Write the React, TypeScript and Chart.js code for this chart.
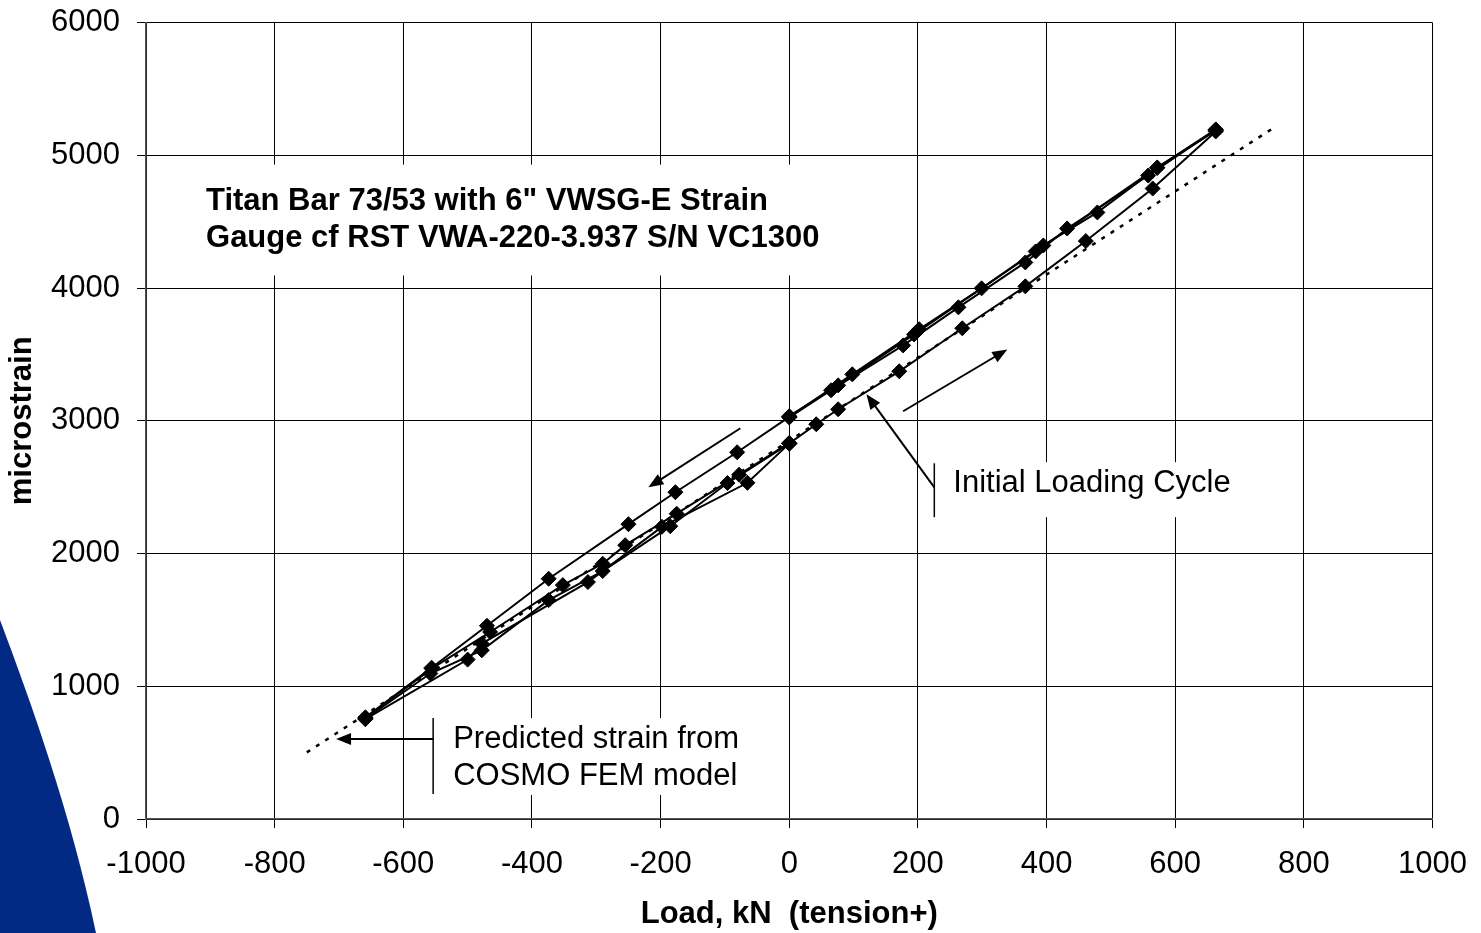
import React, { useEffect, useRef } from "react";
import { Chart, registerables } from "chart.js";

Chart.register(...registerables);

// ---- Data (Load kN, microstrain) ----
const initialLoading: [number, number][] = [
  [0, 2830], [42, 2974], [76, 3087], [171, 3373], [269, 3697], [367, 4013], [461, 4354], [565, 4750], [663, 5180],
];
const unloading1: [number, number][] = [
  [663, 5195], [572, 4905], [479, 4570], [395, 4321], [299, 3998], [202, 3690], [98, 3350], [0, 3030],
];
const compression1: [number, number][] = [
  [0, 3030], [-81, 2763], [-177, 2462], [-250, 2221], [-374, 1810], [-470, 1456], [-556, 1140], [-659, 766],
];
const reload1: [number, number][] = [
  [-659, 760], [-556, 1133], [-465, 1409], [-352, 1762], [-290, 1923], [-255, 2063], [-175, 2300], [-78, 2594], [0, 2833],
];
const tension2: [number, number][] = [
  [0, 3025], [65, 3230], [177, 3568], [263, 3855], [367, 4193], [432, 4449], [558, 4848], [663, 5192],
];
const unloading2: [number, number][] = [
  [663, 5186], [572, 4909], [383, 4276], [194, 3651], [76, 3267], [0, 3035],
];
const compression2: [number, number][] = [
  [0, 2828], [-96, 2531], [-185, 2206], [-290, 1868], [-374, 1649], [-478, 1271], [-558, 1096], [-659, 755],
];
const reload2: [number, number][] = [
  [-659, 752], [-500, 1201], [-478, 1321], [-313, 1785], [-198, 2201], [-65, 2533], [0, 2828],
];
const predictedLoad = [-750, 750];
const predictedStrain = [502, 5198];

const measuredSeries = [initialLoading, unloading1, compression1, reload1, tension2, unloading2, compression2, reload2];

const titleLines = ['Titan Bar 73/53 with 6" VWSG-E Strain', "Gauge cf RST VWA-220-3.937 S/N VC1300"];
const initialLabel = "Initial Loading Cycle";
const predictedLines = ["Predicted strain from", "COSMO FEM model"];
const xAxisTitle = "Load, kN  (tension+)";
const yAxisTitle = "microstrain";

const FONT = "'Liberation Sans', Arial, Helvetica, sans-serif";
const FS = 31;

// annotation geometry in data units
const whiteBoxes = [
  { x1: -922, x2: 64, y1: 4095, y2: 4930 },
  { x1: 228, x2: 701, y1: 2274, y2: 2688 },
  { x1: -550, x2: -68, y1: 181, y2: 760 },
];

function drawArrow(ctx: CanvasRenderingContext2D, x1: number, y1: number, x2: number, y2: number) {
  const ang = Math.atan2(y2 - y1, x2 - x1);
  const len = 15;
  const hw = 6;
  ctx.beginPath();
  ctx.moveTo(x1, y1);
  ctx.lineTo(x2 - Math.cos(ang) * len * 0.8, y2 - Math.sin(ang) * len * 0.8);
  ctx.stroke();
  ctx.beginPath();
  ctx.moveTo(x2, y2);
  ctx.lineTo(x2 - Math.cos(ang) * len - Math.sin(ang) * hw, y2 - Math.sin(ang) * len + Math.cos(ang) * hw);
  ctx.lineTo(x2 - Math.cos(ang) * len + Math.sin(ang) * hw, y2 - Math.sin(ang) * len - Math.cos(ang) * hw);
  ctx.closePath();
  ctx.fill();
}

const annotationPlugin = {
  id: "annotations",
  beforeDatasetsDraw(chart: any) {
    const { ctx, scales } = chart;
    const xs = scales.x;
    const ys = scales.y;
    ctx.save();
    ctx.fillStyle = "#ffffff";
    for (const b of whiteBoxes) {
      const px1 = xs.getPixelForValue(b.x1);
      const px2 = xs.getPixelForValue(b.x2);
      const py1 = ys.getPixelForValue(b.y2);
      const py2 = ys.getPixelForValue(b.y1);
      ctx.fillRect(px1, py1, px2 - px1, py2 - py1);
    }
    ctx.restore();
  },
  afterDatasetsDraw(chart: any) {
    const { ctx, scales } = chart;
    const X = (v: number) => scales.x.getPixelForValue(v);
    const Y = (v: number) => scales.y.getPixelForValue(v);
    ctx.save();
    ctx.strokeStyle = "#000";
    ctx.fillStyle = "#000";
    ctx.lineWidth = 2;
    // direction arrows
    drawArrow(ctx, X(-76), Y(2944), X(-219), Y(2499));
    drawArrow(ctx, X(177), Y(3072), X(339), Y(3538));
    // initial loading callout
    ctx.lineWidth = 1.5;
    ctx.beginPath();
    ctx.moveTo(X(225.5), Y(2680));
    ctx.lineTo(X(225.5), Y(2274));
    ctx.stroke();
    ctx.lineWidth = 2;
    drawArrow(ctx, X(225.5), Y(2499), X(120), Y(3200));
    // predicted callout
    ctx.lineWidth = 1.5;
    ctx.beginPath();
    ctx.moveTo(X(-553.6), Y(760));
    ctx.lineTo(X(-553.6), Y(188));
    ctx.stroke();
    ctx.lineWidth = 2;
    drawArrow(ctx, X(-553.6), Y(602), X(-704.5), Y(602));
    // texts
    ctx.textAlign = "left";
    ctx.textBaseline = "middle";
    ctx.font = `bold ${FS}px ${FONT}`;
    ctx.fillText(titleLines[0], X(-906.7), Y(4652));
    ctx.fillText(titleLines[1], X(-906.7), Y(4374));
    ctx.font = `${FS}px ${FONT}`;
    ctx.fillText(initialLabel, X(255), Y(2530));
    ctx.fillText(predictedLines[0], X(-522.5), Y(602));
    ctx.fillText(predictedLines[1], X(-522.5), Y(324));
    ctx.restore();
  },
};

export default function App() {
  const canvasRef = useRef<HTMLCanvasElement | null>(null);

  useEffect(() => {
    const canvas = canvasRef.current;
    if (!canvas) return;
    const datasets: any[] = measuredSeries.map((s) => ({
      data: s.map(([x, y]) => ({ x, y })),
      showLine: true,
      borderColor: "#000",
      backgroundColor: "#000",
      borderWidth: 2,
      pointStyle: "rectRot",
      pointRadius: 7.5,
      pointBorderWidth: 1,
      pointBackgroundColor: "#000",
      pointBorderColor: "#000",
    }));
    datasets.push({
      data: predictedLoad.map((x, i) => ({ x, y: predictedStrain[i] })),
      showLine: true,
      borderColor: "#000",
      borderWidth: 2.5,
      borderDash: [4, 7],
      pointRadius: 0,
    });

    const chart = new Chart(canvas, {
      type: "scatter",
      data: { datasets },
      options: {
        animation: false,
        responsive: false,
        devicePixelRatio: 1,
        layout: { padding: { top: 9, right: 0, left: 0, bottom: 0 } },
        plugins: { legend: { display: false }, tooltip: { enabled: false } },
        scales: {
          x: {
            type: "linear",
            min: -1000,
            max: 1000,
            ticks: {
              stepSize: 200,
              color: "#000",
              font: { family: FONT, size: FS },
              padding: 18,
              maxRotation: 0,
              callback: (v: any) => String(v),
            },
            grid: { color: "#000", lineWidth: 1, tickLength: 9, drawTicks: true },
            border: { color: "#555", width: 1.5 },
            title: {
              display: true,
              text: xAxisTitle,
              color: "#000",
              font: { family: FONT, size: FS, weight: "bold" },
              padding: { top: 0, bottom: 0 },
            },
            afterFit: (scale: any) => {
              scale.height = 114;
            },
          },
          y: {
            type: "linear",
            min: 0,
            max: 6000,
            ticks: {
              stepSize: 1000,
              color: "#000",
              font: { family: FONT, size: FS },
              padding: 17,
              callback: (v: any) => String(v),
            },
            grid: { color: "#000", lineWidth: 1, tickLength: 9, drawTicks: true },
            border: { color: "#555", width: 1.5 },
            title: {
              display: true,
              text: yAxisTitle,
              color: "#000",
              font: { family: FONT, size: FS, weight: "bold" },
              padding: { top: 4, bottom: 0 },
            },
            afterFit: (scale: any) => {
              scale.width = 146;
            },
          },
        },
      } as any,
      plugins: [annotationPlugin as any],
    });
    return () => chart.destroy();
  }, []);

  return (
    <div style={{ position: "absolute", left: 0, top: 0, width: 1481, height: 933, background: "#fff", overflow: "hidden" }}>
      <svg width={1481} height={933} style={{ position: "absolute", left: 0, top: 0 }}>
        <path d="M0 620 C 30 700, 70 810, 96 933 L0 933 Z" fill="#022a84" />
      </svg>
      <canvas ref={canvasRef} width={1485} height={946} style={{ position: "absolute", left: 0, top: -13, display: "block" }} />
    </div>
  );
}
